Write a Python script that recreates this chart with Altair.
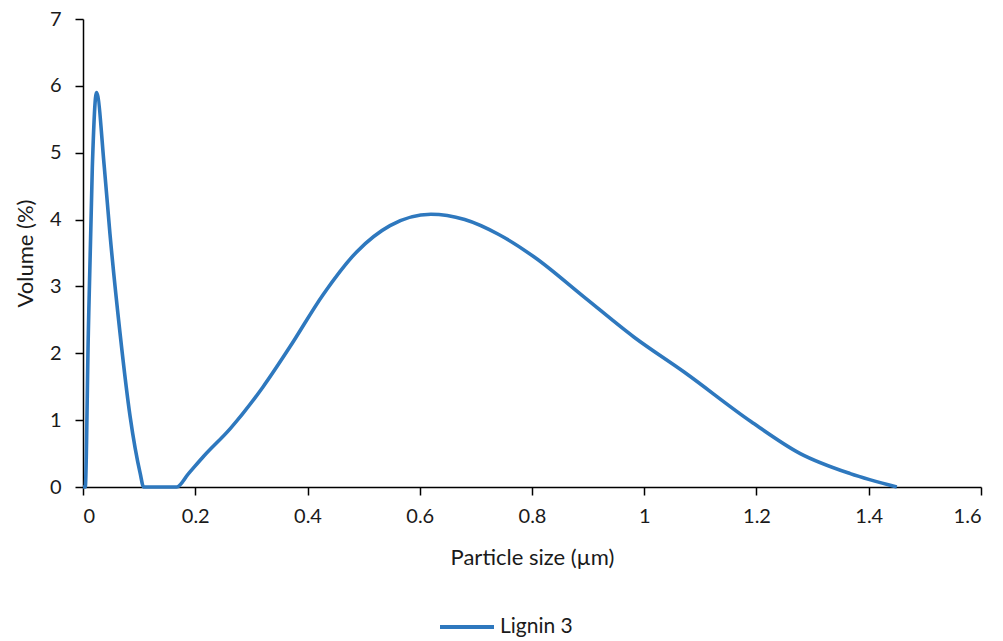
import altair as alt
import pandas as pd

# Particle size (µm) and volume (%)
size_um = [0.0, 0.004, 0.0095, 0.0166, 0.024, 0.038, 0.048, 0.066, 0.084, 0.102, 0.108,
           0.13, 0.15, 0.167, 0.188, 0.215, 0.262, 0.321, 0.369, 0.428, 0.488, 0.547,
           0.62, 0.68, 0.74, 0.804, 0.893, 0.982, 1.071, 1.19, 1.278, 1.367, 1.45]
volume_pct = [0.0, 0.0, 2.3, 4.78, 5.9, 4.78, 3.79, 2.3, 1.05, 0.2, 0.0,
              0.0, 0.0, 0.0, 0.2, 0.46, 0.87, 1.5, 2.1, 2.88, 3.52, 3.91,
              4.08, 4.0, 3.78, 3.44, 2.84, 2.24, 1.72, 0.98, 0.5, 0.2, 0.0]
series_name = "Lignin 3"

x_ticks = [0, 0.2, 0.4, 0.6, 0.8, 1, 1.2, 1.4, 1.6]
y_ticks = [0, 1, 2, 3, 4, 5, 6, 7]

df = pd.DataFrame({"size": size_um, "volume": volume_pct, "series": series_name})

FONT = "Lato"
TXT = "#1a1a1a"

chart = alt.Chart(df).mark_line(
    interpolate="monotone", strokeWidth=3.6
).encode(
    x=alt.X("size:Q",
            scale=alt.Scale(domain=[0, 1.6], nice=False, zero=True),
            axis=alt.Axis(values=x_ticks, format="~g", title="Particle size (µm)",
                          titleY=70, titleBaseline="middle", titleX=449)),
    y=alt.Y("volume:Q",
            scale=alt.Scale(domain=[0, 7], nice=False),
            axis=alt.Axis(values=y_ticks, format="~g", title="Volume (%)",
                          titleX=-58, titleY=234, titleAngle=-90,
                          titleBaseline="middle", titleAlign="center")),
    color=alt.Color("series:N",
                    scale=alt.Scale(domain=[series_name], range=["#2E78BE"]),
                    legend=alt.Legend(title=None, orient="none", legendX=355, legendY=579,
                                      symbolType="stroke", symbolSize=2916,
                                      symbolStrokeWidth=4, labelOffset=4, padding=0,
                                      labelFont=FONT, labelFontSize=21, labelColor=TXT)),
).properties(
    width=898, height=468,
    autosize=alt.AutoSizeParams(type="none"),
    padding={"left": 83, "top": 19, "right": 22, "bottom": 154},
).configure_view(
    stroke=None
).configure_axis(
    grid=False, domainColor="black", domainWidth=1.5, tickColor="black",
    tickWidth=1.5, tickSize=8, labelFont=FONT, labelFontSize=20, labelColor=TXT,
    titleFont=FONT, titleFontSize=22, titleColor=TXT, titleFontWeight="normal",
    labelPadding=11
).configure_axisY(
    labelPadding=14
)

chart.save("out.html", embed_options={"renderer": "svg", "actions": False})
